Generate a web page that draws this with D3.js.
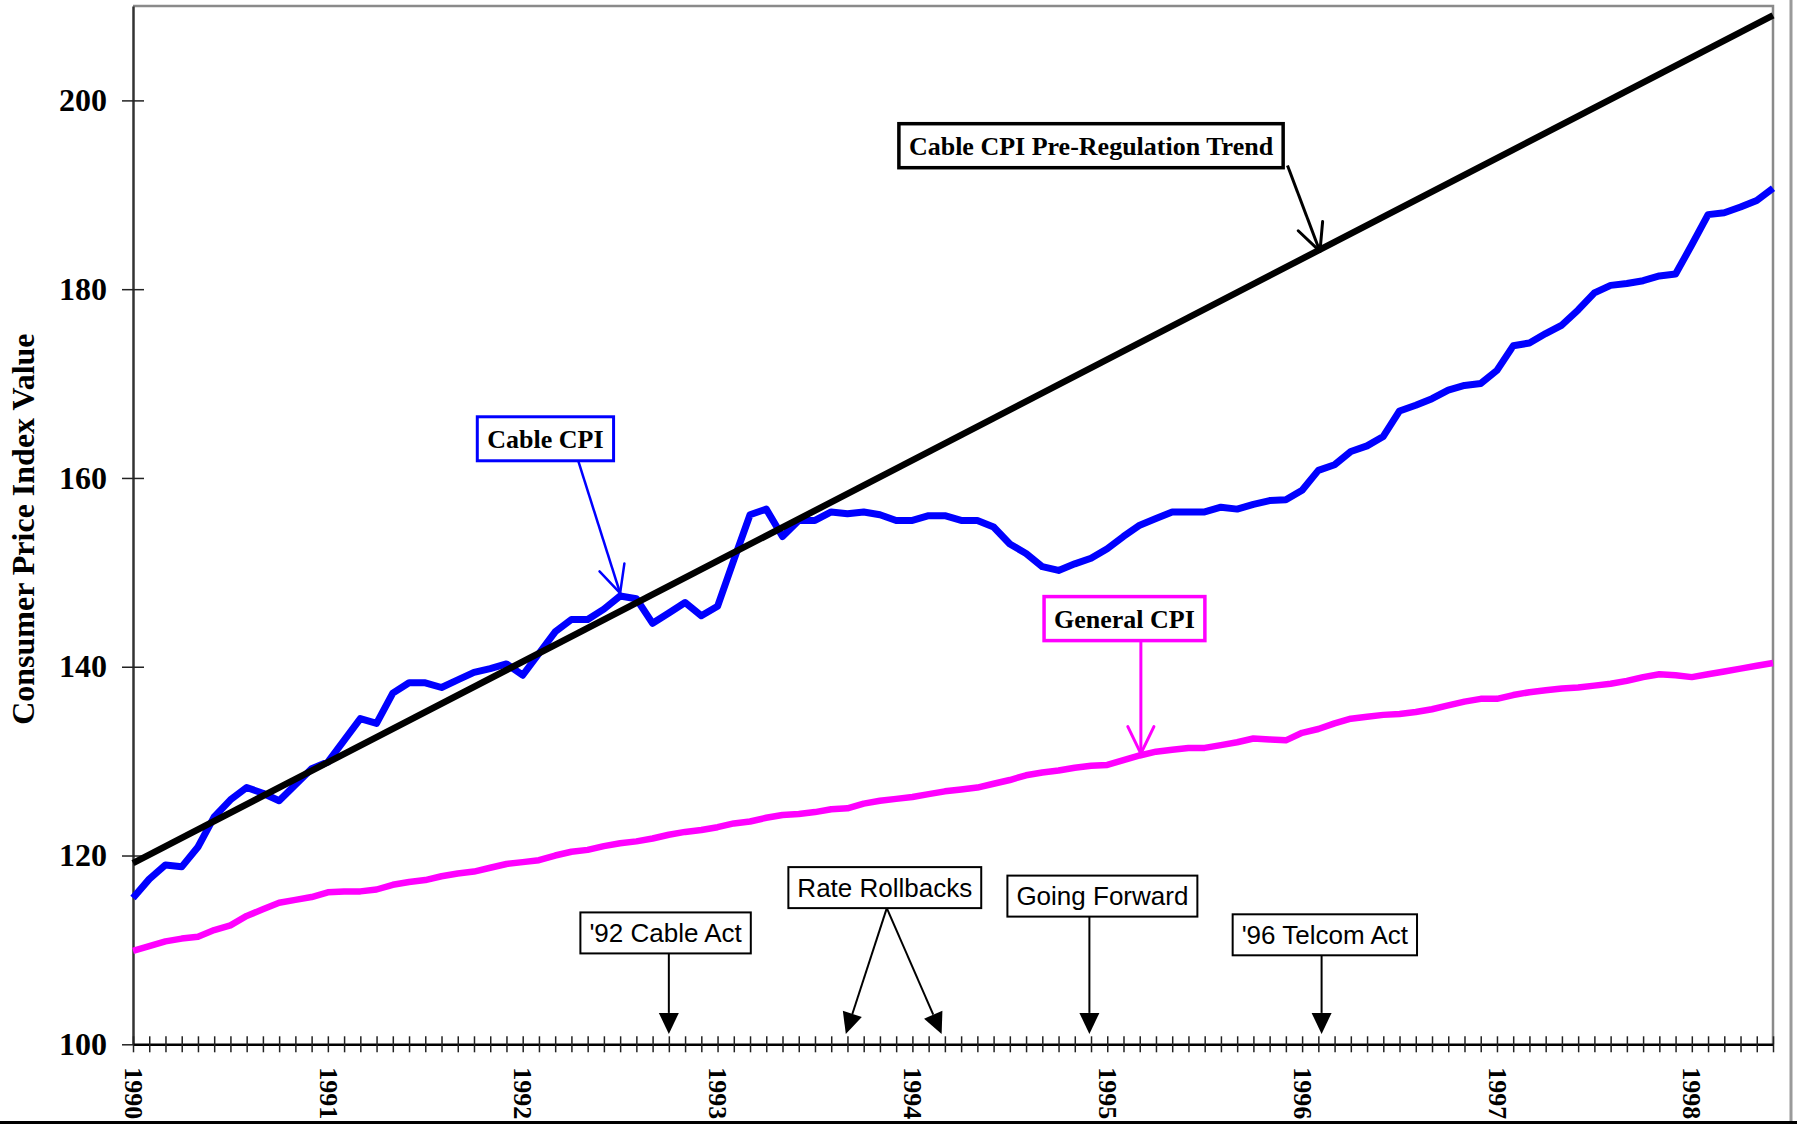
<!DOCTYPE html>
<html>
<head>
<meta charset="utf-8">
<script src="https://cdn.jsdelivr.net/npm/d3@7"></script>
<style>
  body { margin: 0; background: #fff; }
  svg { display: block; }
</style>
</head>
<body>
<svg width="1797" height="1125"></svg>
<script>
// DATA (monthly, Jan 1990 .. Jun 1998)
const cableCpi = [
  115.5, 117.5, 119.0, 118.8, 120.9, 124.1, 125.9, 127.2, 126.6, 125.8,
  127.5, 129.2, 129.9, 132.2, 134.5, 134.0, 137.2, 138.3, 138.3, 137.8,
  138.6, 139.4, 139.8, 140.3, 139.1, 141.4, 143.7, 145.0, 145.0, 146.1,
  147.5, 147.2, 144.6, 145.7, 146.8, 145.4, 146.4, 151.3, 156.1, 156.7,
  153.8, 155.5, 155.5, 156.4, 156.2, 156.4, 156.1, 155.5, 155.5, 156.0,
  156.0, 155.5, 155.5, 154.8, 153.0, 152.0, 150.6, 150.2, 150.9, 151.5,
  152.5, 153.8, 155.0, 155.7, 156.4, 156.4, 156.4, 156.9, 156.7, 157.2,
  157.6, 157.7, 158.7, 160.8, 161.4, 162.8, 163.4, 164.4, 167.1, 167.7,
  168.4, 169.3, 169.8, 170.0, 171.4, 174.0, 174.3, 175.3, 176.2, 177.8,
  179.6, 180.4, 180.6, 180.9, 181.4, 181.6, 184.7, 187.9, 188.1, 188.7,
  189.4, 190.7
];
const generalCpi = [
  109.9, 110.4, 110.9, 111.2, 111.4, 112.1, 112.6, 113.6, 114.3, 115.0,
  115.3, 115.6, 116.1, 116.2, 116.2, 116.4, 116.9, 117.2, 117.4, 117.8,
  118.1, 118.3, 118.7, 119.1, 119.3, 119.5, 120.0, 120.4, 120.6, 121.0,
  121.3, 121.5, 121.8, 122.2, 122.5, 122.7, 123.0, 123.4, 123.6, 124.0,
  124.3, 124.4, 124.6, 124.9, 125.0, 125.5, 125.8, 126.0, 126.2, 126.5,
  126.8, 127.0, 127.2, 127.6, 128.0, 128.5, 128.8, 129.0, 129.3, 129.5,
  129.6, 130.1, 130.6, 131.0, 131.2, 131.4, 131.4, 131.7, 132.0, 132.4,
  132.3, 132.2, 133.0, 133.4, 134.0, 134.5, 134.7, 134.9, 135.0, 135.2,
  135.5, 135.9, 136.3, 136.6, 136.6, 137.0, 137.3, 137.5, 137.7, 137.8,
  138.0, 138.2, 138.5, 138.9, 139.2, 139.1, 138.9, 139.2, 139.5, 139.8,
  140.1, 140.4
];
const trendMonths = [0, 101];
const trendValues = [119.2, 209.0];
const yearLabels = ['1990', '1991', '1992', '1993', '1994', '1995', '1996', '1997', '1998'];
const yTicks = [100, 120, 140, 160, 180, 200];

// series call-outs: box centre, arrow start, arrow tip (month, value)
const noteLabels = ['Cable CPI Pre-Regulation Trend', 'Cable CPI', 'General CPI'];
const noteColors = ['#000000', '#0000ff', '#ff00ff'];
const noteBoxAt = [[59.0, 195.2], [25.4, 164.15], [61.06, 145.1]];
const noteFrom = [[71.1, 193.1], [27.42, 161.8], [62.07, 142.75]];
const noteTip = [[73.1, 184.0], [30.0, 147.8], [62.07, 130.8]];

// regulatory events along the time axis
const eventLabels = ["'92 Cable Act", 'Rate Rollbacks', 'Going Forward', "'96 Telcom Act"];
const eventMonths = [[33.0], [43.9, 49.8], [58.9], [73.2]];
const eventBoxAt = [[32.8, 111.8], [46.3, 116.6], [59.7, 115.7], [73.4, 111.6]];

const svg = d3.select('svg');
const width = +svg.attr('width');
const height = +svg.attr('height');

const plotLeft = 133, plotRight = 1773, plotTop = 6, plotBottom = 1044.3;

const x = d3.scaleLinear().domain([0, 101]).range([plotLeft, plotRight]);
const y = d3.scaleLinear().domain([100, 210]).range([plotBottom, plotTop]);

// outer frame of the chart object
svg.append('line')
    .attr('x1', 1791).attr('x2', 1791).attr('y1', 0).attr('y2', 1122)
    .attr('stroke', '#9a9a9a').attr('stroke-width', 3);
svg.append('line')
    .attr('x1', 0).attr('x2', width).attr('y1', 1122.5).attr('y2', 1122.5)
    .attr('stroke', '#000').attr('stroke-width', 3);

// plot border (top + right)
svg.append('path')
    .attr('d', `M${plotLeft},${plotTop}H${plotRight}V${plotBottom}`)
    .attr('fill', 'none')
    .attr('stroke', '#8a8a8a')
    .attr('stroke-width', 2.5);

// Y AXIS
const yAxis = svg.append('g')
    .attr('transform', `translate(${plotLeft},0)`)
    .call(d3.axisLeft(y).tickValues(yTicks).tickSize(11).tickSizeOuter(0).tickPadding(15));
yAxis.select('.domain').attr('stroke', '#333').attr('stroke-width', 2.5);
yAxis.selectAll('.tick line').attr('x1', 11).attr('stroke', '#222').attr('stroke-width', 1.5);
yAxis.selectAll('.tick text')
    .attr('fill', '#000')
    .style('font-family', '"Liberation Serif", "Times New Roman", serif')
    .style('font-weight', 'bold')
    .style('font-size', '32px');

svg.append('text')
    .attr('transform', `translate(34,${(plotTop + plotBottom) / 2 + 4}) rotate(-90)`)
    .attr('text-anchor', 'middle')
    .style('font-family', '"Liberation Serif", "Times New Roman", serif')
    .style('font-weight', 'bold')
    .style('font-size', '32px')
    .text('Consumer Price Index Value');

// X AXIS
const xAxis = svg.append('g')
    .attr('transform', `translate(0,${plotBottom})`)
    .call(d3.axisBottom(x)
      .tickValues(d3.range(0, 102))
      .tickSize(8)
      .tickSizeOuter(0)
      .tickFormat(m => m % 12 === 0 ? yearLabels[m / 12] : ''));
xAxis.select('.domain').attr('stroke', '#000').attr('stroke-width', 2.5);
xAxis.selectAll('.tick line').attr('y1', -8).attr('stroke', '#222').attr('stroke-width', 1.5);
xAxis.selectAll('.tick text')
    .attr('transform', 'rotate(90)')
    .attr('x', 23)
    .attr('y', 0)
    .attr('dy', '0.34em')
    .attr('fill', '#000')
    .style('text-anchor', 'start')
    .style('font-family', '"Liberation Serif", "Times New Roman", serif')
    .style('font-weight', 'bold')
    .style('font-size', '26px');

// LINES
const line = d3.line()
    .x((d, i) => x(i))
    .y(d => y(d));

svg.append('path')
    .datum(generalCpi)
    .attr('d', line)
    .attr('fill', 'none')
    .attr('stroke', '#ff00ff')
    .attr('stroke-width', 6.5)
    .attr('stroke-linejoin', 'round');

svg.append('path')
    .datum(cableCpi)
    .attr('d', line)
    .attr('fill', 'none')
    .attr('stroke', '#0000ff')
    .attr('stroke-width', 7)
    .attr('stroke-linejoin', 'round');

svg.append('path')
    .datum(trendValues)
    .attr('d', d3.line().x((d, i) => x(trendMonths[i])).y(d => y(d)))
    .attr('fill', 'none')
    .attr('stroke', '#000')
    .attr('stroke-width', 6.5);

// BOX HELPER
function labelBox(cx, cy, text, opts) {
  const g = svg.append('g');
  const t = g.append('text')
      .attr('x', cx)
      .attr('y', cy + opts.size * 0.35)
      .attr('text-anchor', 'middle')
      .style('font-family', opts.family)
      .style('font-weight', opts.weight)
      .style('font-size', opts.size + 'px')
      .text(text);
  const w = t.node().getComputedTextLength() + opts.padX * 2;
  g.insert('rect', 'text')
      .attr('x', cx - w / 2)
      .attr('y', cy - opts.h / 2)
      .attr('width', w)
      .attr('height', opts.h)
      .attr('fill', '#fff')
      .attr('stroke', opts.stroke)
      .attr('stroke-width', opts.sw);
  return g;
}

// SERIES CALL-OUTS (open arrowheads)
noteLabels.forEach((label, i) => {
  const [fx, fy] = [x(noteFrom[i][0]), y(noteFrom[i][1])];
  const [tx, ty] = [x(noteTip[i][0]), y(noteTip[i][1])];
  const sw = i === 1 ? 2.5 : 3;
  svg.append('line')
      .attr('x1', fx).attr('y1', fy).attr('x2', tx).attr('y2', ty)
      .attr('stroke', noteColors[i]).attr('stroke-width', sw);
  const back = Math.atan2(fy - ty, fx - tx);
  [-0.45, 0.45].forEach(a => {
    svg.append('line')
        .attr('x1', tx).attr('y1', ty)
        .attr('x2', tx + 30 * Math.cos(back + a))
        .attr('y2', ty + 30 * Math.sin(back + a))
        .attr('stroke', noteColors[i])
        .attr('stroke-width', sw)
        .attr('stroke-linecap', 'round');
  });
  labelBox(x(noteBoxAt[i][0]), y(noteBoxAt[i][1]), label, {
    family: '"Liberation Serif", "Times New Roman", serif',
    weight: 'bold', size: 26, padX: 10, h: 44,
    stroke: noteColors[i], sw: i === 1 ? 3 : 3.5
  });
});

// EVENT CALL-OUTS (filled arrowheads)
const tipValue = 101.1;
eventLabels.forEach((label, i) => {
  const cx = x(eventBoxAt[i][0]);
  const cy = y(eventBoxAt[i][1]);
  const boxBottom = cy + 20.5;
  eventMonths[i].forEach(m => {
    const tx = x(m), ty = y(tipValue);
    const fx = eventMonths[i].length > 1 ? cx + 2 : tx;
    const len = Math.hypot(tx - fx, ty - boxBottom);
    const ux = (tx - fx) / len, uy = (ty - boxBottom) / len;
    const bx = tx - 21 * ux, by = ty - 21 * uy;
    svg.append('line')
        .attr('x1', fx).attr('y1', boxBottom).attr('x2', bx).attr('y2', by)
        .attr('stroke', '#000').attr('stroke-width', 2);
    svg.append('path')
        .attr('d', `M${tx},${ty}L${bx - 10 * uy},${by + 10 * ux}L${bx + 10 * uy},${by - 10 * ux}Z`)
        .attr('fill', '#000');
  });
  labelBox(cx, cy, label, {
    family: '"Liberation Sans", Arial, sans-serif',
    weight: 'normal', size: 26, padX: 9, h: 41,
    stroke: '#000', sw: 2
  });
});
</script>
</body>
</html>
